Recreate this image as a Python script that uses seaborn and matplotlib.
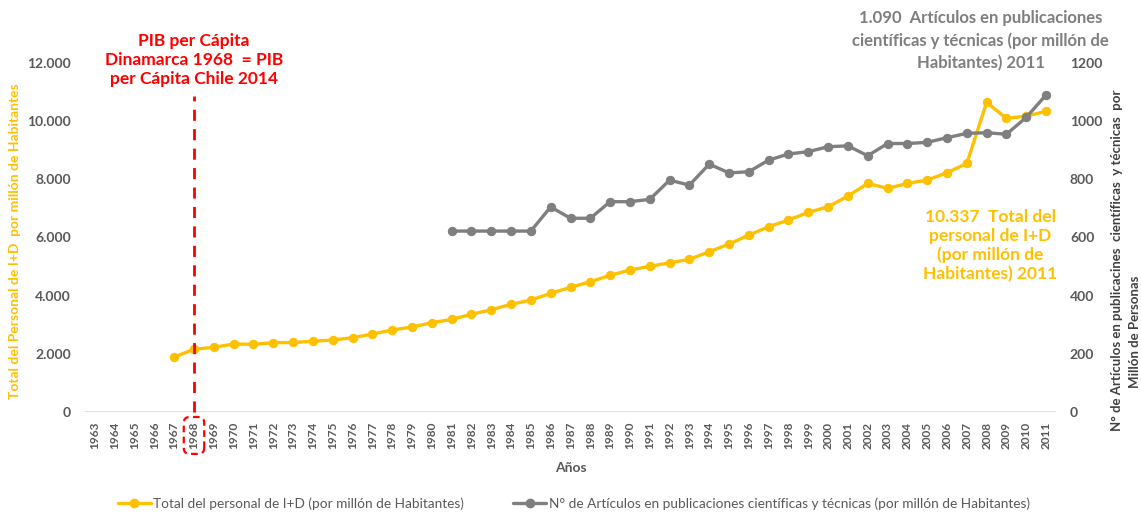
import numpy as np
import pandas as pd
import matplotlib
matplotlib.use("Agg")
import matplotlib.pyplot as plt
import seaborn as sns
from matplotlib.lines import Line2D
import matplotlib.transforms as mtransforms

# ---- data -------------------------------------------------------------
years = list(range(1963, 2012))

# Total del personal de I+D (por millón de habitantes), 1967-2011
personal_id = [np.nan] * 4 + [
    1890, 2155, 2223, 2337, 2326, 2381, 2390, 2430, 2474, 2553,
    2680, 2818, 2921, 3069, 3185, 3357, 3515, 3701, 3849, 4079,
    4285, 4478, 4698, 4880, 5007, 5131, 5247, 5509, 5773, 6082,
    6369, 6598, 6862, 7055, 7423, 7858, 7687, 7858, 7973, 8224,
    8546, 10643, 10093, 10172, 10337,
]

# N° de artículos en publicaciones científicas y técnicas (por millón), 1981-2011
articulos = [np.nan] * 18 + [
    622, 622, 622, 622, 622, 705, 666, 666, 723, 723,
    731, 797, 780, 852, 822, 826, 866, 887, 895, 912,
    915, 881, 923, 923, 927, 943, 958, 960, 955, 1013,
    1090,
]

left_ticks = [0, 2000, 4000, 6000, 8000, 10000, 12000]
left_tick_labels = ["0", "2.000", "4.000", "6.000", "8.000", "10.000", "12.000"]
right_ticks = [0, 200, 400, 600, 800, 1000, 1200]
highlight_year = 1968

df = pd.DataFrame({"Año": years, "Personal": personal_id, "Articulos": articulos})

# ---- style ------------------------------------------------------------
sns.set_theme(style="white")
plt.rcParams["font.family"] = ["Lato", "DejaVu Sans"]

YELLOW = "#FFC000"
GREY = "#7F7F7F"
TXT = "#595959"
RED = "#FF0000"

fig = plt.figure(figsize=(11.41, 5.16), dpi=100)
ax = fig.add_axes([0.0745, 0.2016, 0.8510, 0.6764])
ax2 = ax.twinx()

sns.lineplot(data=df, x="Año", y="Personal", ax=ax, color=YELLOW,
             linewidth=2.4, marker="o", markersize=6, markeredgecolor=YELLOW)
sns.lineplot(data=df, x="Año", y="Articulos", ax=ax2, color=GREY,
             linewidth=2.4, marker="o", markersize=6, markeredgecolor=GREY)

ax.set_xlim(1962.5, 2011.5)
ax.set_ylim(0, 12000)
ax2.set_ylim(0, 1200)

ax.set_xticks(years)
ax.set_xticklabels([str(y) for y in years], rotation=90, fontsize=8.5,
                   fontweight="bold", color=TXT)
ax.set_yticks(left_ticks)
ax.set_yticklabels(left_tick_labels, fontsize=10, fontweight="bold", color=TXT)
ax2.set_yticks(right_ticks)
ax2.set_yticklabels([str(v) for v in right_ticks], fontsize=10,
                    fontweight="bold", color=TXT)

ax.tick_params(axis="x", length=0, pad=7)
ax.tick_params(axis="y", length=0, pad=10)
ax2.tick_params(axis="y", length=0, pad=10)

for a in (ax, ax2):
    for s in a.spines.values():
        s.set_visible(False)
    a.grid(False)
ax.axhline(0, color="#D9D9D9", linewidth=1.2, zorder=0)

ax.set_xlabel("Años", fontsize=10, fontweight="bold", color=TXT, labelpad=9)
ax.set_ylabel("Total del Personal de I+D  por millón de Habitantes",
              fontsize=10, fontweight="bold", color=YELLOW)
ax.yaxis.set_label_coords(-0.066, 0.49)
ax2.set_ylabel("")

# right axis title in two lines
ax2.text(1.063, 0.435,
         "N° de Artículos en publicacines  científicas  y técnicas  por",
         transform=ax2.transAxes, rotation=90, ha="center", va="center",
         fontsize=9.5, fontweight="bold", color="#404040")
ax2.text(1.0815, 0.23, "Millón de Personas",
         transform=ax2.transAxes, rotation=90, ha="center", va="center",
         fontsize=9.5, fontweight="bold", color="#404040")

# dashed marker for the highlighted year
blend = mtransforms.blended_transform_factory(ax.transData, ax.transAxes)
ax.plot([highlight_year, highlight_year], [0, 0.905], transform=blend,
        color=RED, linestyle=(0, (4, 3)), linewidth=2, clip_on=False, zorder=5)
for lbl in ax.get_xticklabels():
    if lbl.get_text() == str(highlight_year):
        lbl.set_bbox(dict(boxstyle="round,pad=0.4,rounding_size=0.5",
                          facecolor="none", edgecolor=RED,
                          linestyle=(0, (3, 2)), linewidth=1.6))
ax.text(highlight_year, 1.009,
        "PIB per Cápita\nDinamarca 1968  = PIB\nper Cápita Chile 2014",
        transform=blend, ha="center", va="center", fontsize=12.5,
        fontweight="bold", color=RED, linespacing=1.25)

# value call-outs (grey one line by line, each centred)
grey_lines = [
    "1.090  Artículos en publicaciones",
    "científicas y técnicas (por millón de",
    "Habitantes) 2011",
]
for i, line in enumerate(grey_lines):
    ax.text(2007.7, 1.128 - i * 0.064, line, transform=blend,
            ha="center", va="center", fontsize=12, fontweight="bold",
            color=GREY)
ax.text(2008.2, 0.476,
        "10.337  Total del\npersonal de I+D\n(por millón de\nHabitantes) 2011",
        transform=blend, ha="center", va="center", fontsize=12.5,
        fontweight="bold", color=YELLOW, linespacing=1.2)

# legend
handles = [
    Line2D([], [], color=YELLOW, linewidth=2.4, marker="o", markersize=6),
    Line2D([], [], color=GREY, linewidth=2.4, marker="o", markersize=6),
]
labels = [
    "Total del personal de I+D (por millón de Habitantes)",
    "N° de Artículos en publicaciones científicas y técnicas (por millón de Habitantes)",
]
fig.legend(handles, labels, loc="lower center", bbox_to_anchor=(0.503, -0.012),
           ncol=2, frameon=False, fontsize=9.8, handlelength=2.4,
           handletextpad=0.2, columnspacing=3.6, labelcolor=TXT)

fig.savefig("out.png", dpi=100)
